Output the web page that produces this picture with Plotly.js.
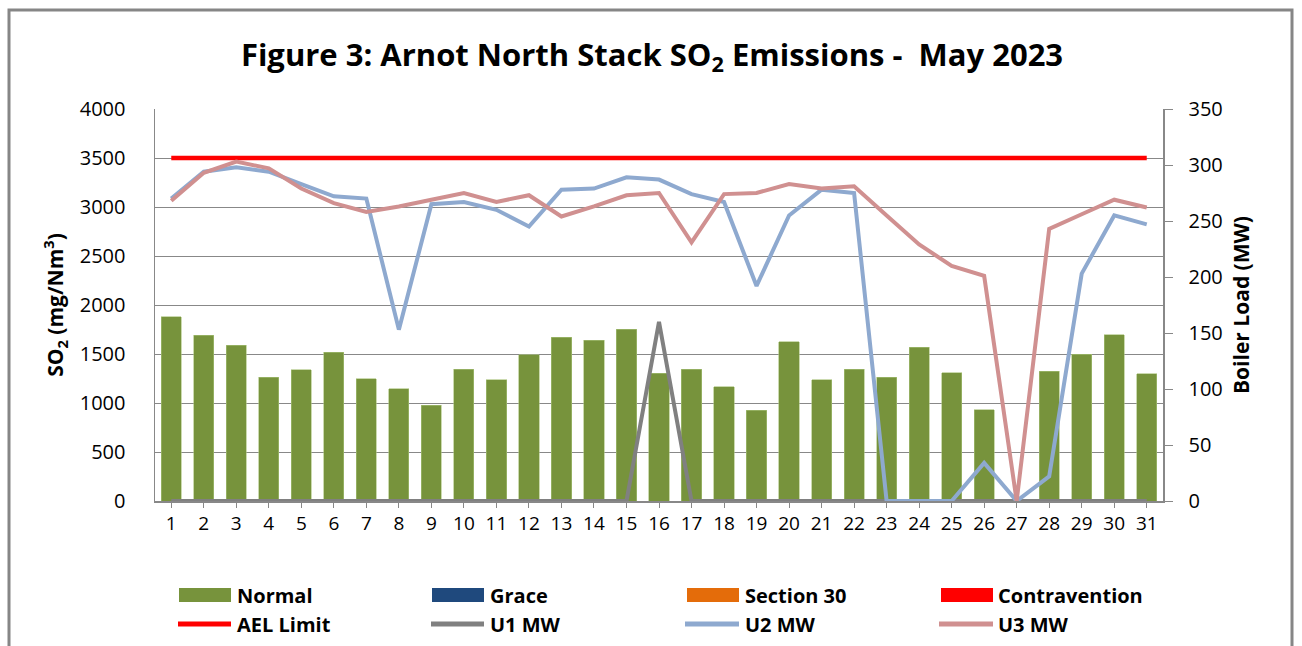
<!DOCTYPE html>
<html>
<head>
<meta charset="utf-8">
<script src="https://cdn.plot.ly/plotly-3.0.1.min.js"></script>
<style>
  html, body { margin: 0; padding: 0; background: #ffffff; }
  #chart { width: 1302px; height: 646px; }
</style>
</head>
<body>
<div id="chart"></div>
<script>
// ---- data ----
const days = [1,2,3,4,5,6,7,8,9,10,11,12,13,14,15,16,17,18,19,20,21,22,23,24,25,26,27,28,29,30,31];
const dayLabels = ["1","2","3","4","5","6","7","8","9","10","11","12","13","14","15","16","17","18","19","20","21","22","23","24","25","26","27","28","29","30","31"];
const normal = [1880,1690,1590,1265,1340,1520,1245,1145,975,1345,1235,1490,1670,1640,1755,1305,1345,1165,925,1625,1235,1345,1265,1570,1310,930,0,1325,1495,1695,1300];
const grace = [0,0,0,0,0,0,0,0,0,0,0,0,0,0,0,0,0,0,0,0,0,0,0,0,0,0,0,0,0,0,0];
const section30 = [0,0,0,0,0,0,0,0,0,0,0,0,0,0,0,0,0,0,0,0,0,0,0,0,0,0,0,0,0,0,0];
const contravention = [0,0,0,0,0,0,0,0,0,0,0,0,0,0,0,0,0,0,0,0,0,0,0,0,0,0,0,0,0,0,0];
const aelLimit = [3500,3500,3500,3500,3500,3500,3500,3500,3500,3500,3500,3500,3500,3500,3500,3500,3500,3500,3500,3500,3500,3500,3500,3500,3500,3500,3500,3500,3500,3500,3500];
const u1MW = [0,0,0,0,0,0,0,0,0,0,0,0,0,0,0,160,0,0,0,0,0,0,0,0,0,0,0,0,0,0,0];
const u2MW = [270,294,298,294,283,272,270,153,265,267,260,245,278,279,289,287,274,267,192,255,278,275,0,0,0,34,0,22,203,255,247];
const u3MW = [268,293,303,297,279,266,258,263,269,275,267,273,254,263,273,275,231,274,275,283,279,281,255,229,210,201,0,243,256,269,262];
const leftTicks = [0,500,1000,1500,2000,2500,3000,3500,4000];
const rightTicks = [0,50,100,150,200,250,300,350];

const C = {
  normal: '#77933C', grace: '#1F497D', s30: '#E46C0A', contra: '#FF0000',
  ael: '#FF0000', u1: '#808080', u2: '#8EA9CF', u3: '#D09090', grid: '#888888'
};
const FONT = 'Open Sans, Liberation Sans, sans-serif';

// plot area geometry (px)
const W = 1302, H = 646, L = 155, R = 139, T = 109, B = 145;
const PW = W - L - R, PH = H - T - B;
const px = x => (x - L) / PW;
const py = y => (H - B - y) / PH;

const traces = [
  {type:'bar', x: days, y: normal, name:'Normal', marker:{color:C.normal, line:{color:'#A9C27A', width:0.6}}, width:0.62, hoverinfo:'skip', showlegend:false},
  {type:'bar', x: days, y: grace, name:'Grace', marker:{color:C.grace}, width:0.62, hoverinfo:'skip', showlegend:false},
  {type:'bar', x: days, y: section30, name:'Section 30', marker:{color:C.s30}, width:0.62, hoverinfo:'skip', showlegend:false},
  {type:'bar', x: days, y: contravention, name:'Contravention', marker:{color:C.contra}, width:0.62, hoverinfo:'skip', showlegend:false},
  {type:'scatter', mode:'lines', x: days, y: aelLimit, name:'AEL Limit', line:{color:C.ael, width:4.5}, hoverinfo:'skip', showlegend:false},
  {type:'scatter', mode:'lines', x: days, y: u1MW, name:'U1 MW', yaxis:'y2', line:{color:C.u1, width:4}, hoverinfo:'skip', showlegend:false},
  {type:'scatter', mode:'lines', x: days, y: u2MW, name:'U2 MW', yaxis:'y2', line:{color:C.u2, width:4}, hoverinfo:'skip', showlegend:false},
  {type:'scatter', mode:'lines', x: days, y: u3MW, name:'U3 MW', yaxis:'y2', line:{color:C.u3, width:4}, hoverinfo:'skip', showlegend:false}
];

// custom legend (wide swatches like the original)
const legendItems = [
  {label:'Normal', kind:'rect', color:C.normal, x0:179, x1:231, tx:235, row:0},
  {label:'Grace', kind:'rect', color:C.grace, x0:432, x1:484, tx:488, row:0},
  {label:'Section 30', kind:'rect', color:C.s30, x0:687, x1:739, tx:743, row:0},
  {label:'Contravention', kind:'rect', color:C.contra, x0:941, x1:993, tx:996, row:0},
  {label:'AEL Limit', kind:'line', color:C.ael, x0:178, x1:231, tx:235, row:1},
  {label:'U1 MW', kind:'line', color:C.u1, x0:431, x1:484, tx:488, row:1},
  {label:'U2 MW', kind:'line', color:C.u2, x0:685, x1:739, tx:743, row:1},
  {label:'U3 MW', kind:'line', color:C.u3, x0:939, x1:993, tx:996, row:1}
];
const rowY = [595, 624];

const shapes = [
  // outer chart border
  {type:'rect', xref:'paper', yref:'paper', x0:px(9), x1:px(1292), y0:py(700), y1:py(10),
   line:{color:'#868686', width:3}, fillcolor:'rgba(0,0,0,0)', layer:'below'}
];
const annotations = [];
legendItems.forEach(it => {
  const yc = rowY[it.row];
  if (it.kind === 'rect') {
    shapes.push({type:'rect', xref:'paper', yref:'paper', x0:px(it.x0), x1:px(it.x1), y0:py(yc+7), y1:py(yc-7),
      fillcolor:it.color, line:{width:0}});
  } else {
    shapes.push({type:'line', xref:'paper', yref:'paper', x0:px(it.x0), x1:px(it.x1), y0:py(yc), y1:py(yc),
      line:{color:it.color, width:5}});
  }
  annotations.push({xref:'paper', yref:'paper', x:px(it.tx), y:py(yc), xanchor:'left', yanchor:'middle',
    text:it.label, showarrow:false, font:{family:FONT, size:20, color:'#000000', weight:700}});
});

const layout = {
  width: W, height: H,
  margin: {l:L, r:R, t:T, b:B, pad:0},
  paper_bgcolor:'#ffffff', plot_bgcolor:'#ffffff',
  barmode:'stack',
  showlegend:false,
  title: {text:'Figure 3: Arnot North Stack SO<sub>2</sub> Emissions -  May 2023',
          x: 652/W, xanchor:'center', y: 1 - 55/H, yanchor:'middle', yref:'container',
          font:{family:FONT, size:31, color:'#000000', weight:700}},
  xaxis: {range:[0.5, 31.5], tickmode:'array', tickvals: days, ticktext: dayLabels,
          ticks:'outside', ticklen:5, tickcolor:'#888888', tickwidth:1,
          showline:true, linecolor:'#888888', linewidth:1.5, showgrid:false, zeroline:false,
          tickfont:{family:FONT, size:19, color:'#000000'}, fixedrange:true},
  yaxis: {range:[0, 4000], tickmode:'array', tickvals:leftTicks,
          showline:true, linecolor:'#888888', linewidth:1.5,
          ticks:'outside', ticklen:6, tickcolor:'rgba(0,0,0,0)',
          showgrid:true, gridcolor:C.grid, gridwidth:1, zeroline:false,
          ticklabelstandoff:18,
          tickfont:{family:FONT, size:20, color:'#000000'},
          title:{text:'SO<sub>2</sub> (mg/Nm<sup>3</sup>)', standoff:10,
                 font:{family:FONT, size:21, color:'#000000', weight:700}}, fixedrange:true},
  yaxis2: {range:[0, 350], tickmode:'array', tickvals:rightTicks, overlaying:'y', side:'right',
          showline:true, linecolor:'#888888', linewidth:1.5, ticks:'outside', ticklen:8, tickcolor:'#888888',
          showgrid:false, zeroline:false, ticklabelstandoff:12,
          tickfont:{family:FONT, size:20, color:'#000000'},
          title:{text:'Boiler Load (MW)', standoff:12,
                 font:{family:FONT, size:21, color:'#000000', weight:700}}, fixedrange:true},
  shapes: shapes,
  annotations: annotations
};

Plotly.newPlot('chart', traces, layout, {displayModeBar:false, staticPlot:true});
</script>
</body>
</html>
